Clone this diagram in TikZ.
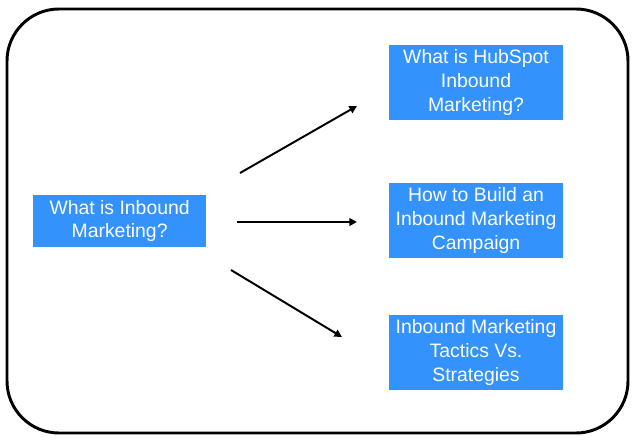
\documentclass[tikz,border=0pt]{standalone}
\usepackage{fontspec}
\setmainfont{Liberation Sans}
\usetikzlibrary{arrows.meta, positioning}
\definecolor{topicblue}{RGB}{52,146,252}

\begin{document}
\begin{tikzpicture}[
    topic/.style={fill=topicblue, text=white, align=center, inner sep=0pt,
                  minimum width=4.35cm, minimum height=1.875cm,
                  font=\fontsize{13.8}{16.8}\selectfont},
    arrow/.style={-{Triangle[length=1.9mm, width=1.9mm]}, line width=1.4pt}
]
\useasboundingbox (0,0) rectangle (16,11.1);

% Outer frame
\draw[line width=2.1pt, rounded corners=1.3cm] (0.175,0.275) rectangle (15.7,10.875);

% Main topic
\node[topic, minimum width=4.325cm, minimum height=1.3cm] (inbound) at (2.99,5.575)
  {What is Inbound\\Marketing?};

% Sub topics
\node[topic] (hubspot)  at (11.9,9.0375) {What is HubSpot\\Inbound\\Marketing?};
\node[topic] (campaign) at (11.9,5.5875) {How to Build an\\Inbound Marketing\\Campaign};
\node[topic] (tactics)  at (11.9,2.2875) {Inbound Marketing\\Tactics Vs.\\Strategies};

% Arrow ends
\coordinate (up-s)  at (6.0,6.775);
\coordinate (up-e)  at (8.925,8.45);
\coordinate (mid-s) at (5.925,5.55);
\coordinate (mid-e) at (8.925,5.55);
\coordinate (low-s) at (5.775,4.35);
\coordinate (low-e) at (8.55,2.675);

\draw[arrow] (up-s) -- (up-e);
\draw[arrow] (mid-s) -- (mid-e);
\draw[arrow] (low-s) -- (low-e);
\end{tikzpicture}
\end{document}
